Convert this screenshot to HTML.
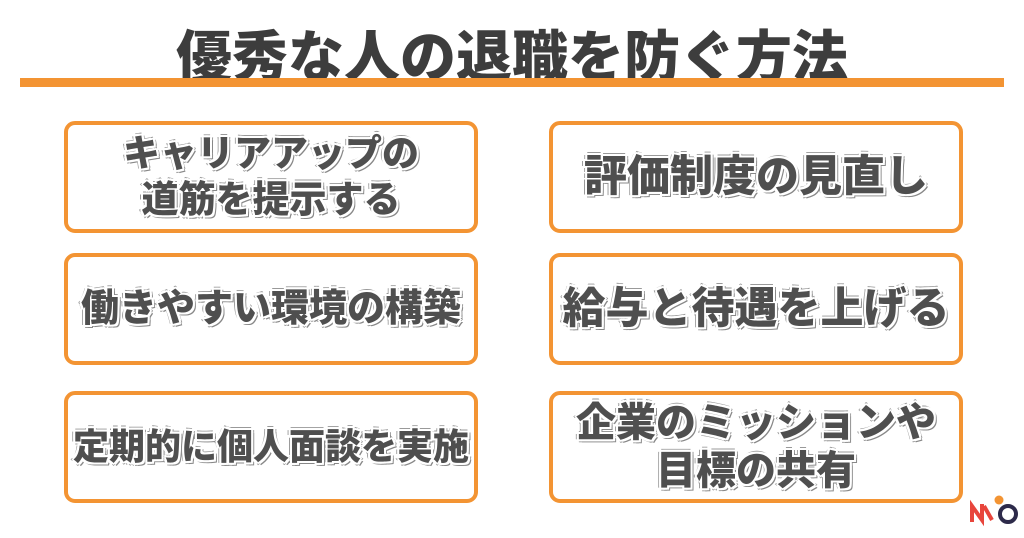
<!DOCTYPE html>
<html><head><meta charset="utf-8"><style>
body{margin:0;width:1024px;height:538px;background:#fff;position:relative;overflow:hidden;font-family:"Liberation Sans","Noto Sans CJK JP",sans-serif;}
.t{position:absolute;left:0;width:1024px;top:20px;text-align:center;font-size:56px;font-weight:900;color:#3d3d3d;line-height:76px;letter-spacing:0px}
.bar{position:absolute;left:20px;top:78px;width:984px;height:9px;background:#f39433}
.b{position:absolute;width:406px;height:104px;border:4px solid #f39433;border-radius:11px;box-sizing:content-box;display:flex;align-items:center;justify-content:center;text-align:center;font-size:37px;font-weight:900;color:#4f4f4f;line-height:46px;white-space:nowrap;
text-shadow:2px 0 0 #fff,-2px 0 0 #fff,0 2px 0 #fff,0 -2px 0 #fff,2px 2px 0 #fff,-2px -2px 0 #fff,2px -2px 0 #fff,-2px 2px 0 #fff,3px 3px 0 #888,-3px 0 0 #999,0 -3px 0 #999,3px 0 0 #999,0 3px 0 #999;}
</style></head><body>
<div class="t">優秀な人の退職を防ぐ方法</div>
<div class="bar"></div>
<div class="b" style="left:64px;top:121px">キャリアアップの<br>道筋を提示する</div>
<div class="b" style="left:549px;top:121px;font-size:43px">評価制度の見直し</div>
<div class="b" style="left:64px;top:253px;font-size:38px">働きやすい環境の構築</div>
<div class="b" style="left:549px;top:253px;font-size:43px">給与と待遇を上げる</div>
<div class="b" style="left:64px;top:391px;font-size:36px">定期的に個人面談を実施</div>
<div class="b" style="left:549px;top:391px;font-size:40px;line-height:48px">企業のミッションや<br>目標の共有</div>
<svg style="position:absolute;left:968px;top:488px" width="52" height="40" viewBox="0 0 52 40">
<path d="M4 34 V18 L14 32 V16" stroke="#e8453c" stroke-width="4" fill="none"/>
<path d="M16 18 L24 32" stroke="#e8453c" stroke-width="4"/>
<circle cx="31" cy="12" r="4.5" fill="#f39433"/>
<circle cx="40" cy="26" r="8" stroke="#2d2a4a" stroke-width="4" fill="none"/>
</svg>
</body></html>
